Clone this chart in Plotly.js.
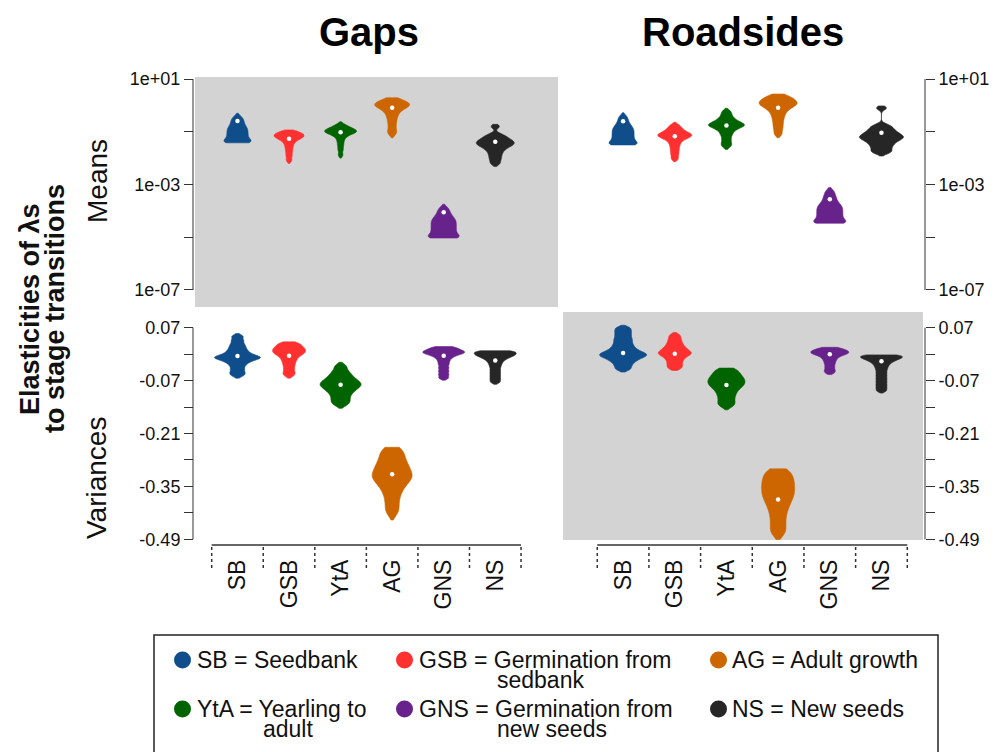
<!DOCTYPE html>
<html>
<head>
<meta charset="utf-8">
<script src="https://cdn.plot.ly/plotly-3.0.1.min.js"></script>
<style>html,body{margin:0;padding:0;background:#fff}#chart{width:998px;height:752px}</style>
</head>
<body>
<div id="chart"></div>
<script>
// ---------------- DATA ----------------
const categories = ['SB', 'GSB', 'YtA', 'AG', 'GNS', 'NS'];
const legendLabels = [
  ['SB = Seedbank'],
  ['GSB = Germination from', 'sedbank'],
  ['YtA = Yearling to', 'adult'],
  ['AG = Adult growth'],
  ['GNS = Germination from', 'new seeds'],
  ['NS = New seeds']
];
const panelTitles = ['Gaps', 'Roadsides'];
const rowTitles = ['Means', 'Variances'];
const outerTitleLines = ['Elasticities of \u03bbs', 'to stage transitions'];

// Means (log10 of elasticity to each stage transition), samples
const gapsMeansLog10 = [
  [-1.42, -1.41, -1.38, -1.36, -1.30, -1.24, -1.18, -1.12, -1.06, -1.00, -0.94, -0.88, -0.82, -0.74, -0.65, -0.55, -0.45],
  [-0.99, -1.02, -1.06, -1.10, -1.13, -1.16, -1.19, -1.22, -1.26, -1.31, -1.38, -1.48, -1.60, -1.74, -1.90, -2.08],
  [-0.74, -0.80, -0.85, -0.89, -0.92, -0.95, -0.97, -0.99, -1.01, -1.04, -1.07, -1.11, -1.17, -1.26, -1.38, -1.52, -1.68, -1.88],
  [0.24, 0.19, 0.14, 0.10, 0.06, 0.03, 0.00, -0.03, -0.07, -0.12, -0.18, -0.26, -0.36, -0.48, -0.62, -0.78, -0.95, -1.08],
  [-5.03, -5.02, -5.00, -4.96, -4.90, -4.84, -4.78, -4.72, -4.66, -4.60, -4.54, -4.48, -4.42, -4.36, -4.30, -4.23, -4.14, -4.03, -3.90],
  [-0.80, -1.10, -1.18, -1.25, -1.30, -1.35, -1.39, -1.43, -1.47, -1.51, -1.56, -1.62, -1.70, -1.80, -1.92, -2.05, -2.20]
];
const gapsMeansMedianLog10 = [-0.59, -1.27, -1.02, -0.09, -4.05, -1.38];

const roadsMeansLog10 = [
  [-1.50, -1.49, -1.46, -1.44, -1.38, -1.32, -1.26, -1.20, -1.14, -1.08, -1.02, -0.96, -0.90, -0.84, -0.77, -0.68, -0.56, -0.43],
  [-0.76, -0.86, -0.94, -1.00, -1.05, -1.09, -1.12, -1.15, -1.18, -1.22, -1.27, -1.34, -1.44, -1.56, -1.70, -1.85, -2.02],
  [-0.23, -0.36, -0.47, -0.55, -0.61, -0.66, -0.70, -0.73, -0.76, -0.79, -0.83, -0.88, -0.95, -1.04, -1.15, -1.29, -1.43, -1.55],
  [0.38, 0.32, 0.26, 0.21, 0.16, 0.12, 0.08, 0.04, 0.00, -0.05, -0.11, -0.19, -0.29, -0.41, -0.55, -0.71, -0.88, -1.08],
  [-4.47, -4.46, -4.44, -4.40, -4.34, -4.28, -4.22, -4.16, -4.10, -4.04, -3.98, -3.92, -3.86, -3.80, -3.73, -3.64, -3.53, -3.41, -3.26],
  [-0.10, -0.75, -0.84, -0.92, -0.99, -1.05, -1.10, -1.15, -1.19, -1.23, -1.27, -1.32, -1.38, -1.45, -1.53, -1.62, -1.72, -1.80]
];
const roadsMeansMedianLog10 = [-0.60, -1.17, -0.76, -0.09, -3.56, -1.04];

// Variances
const gapsVar = [
  [0.047, 0.036, 0.026, 0.018, 0.011, 0.005, 0.000, -0.004, -0.007, -0.009, -0.011, -0.014, -0.018, -0.023, -0.030, -0.039, -0.048, -0.056],
  [0.030, 0.026, 0.022, 0.018, 0.015, 0.012, 0.009, 0.006, 0.003, 0.000, -0.004, -0.009, -0.015, -0.022, -0.030, -0.039, -0.048, -0.056],
  [-0.032, -0.045, -0.054, -0.061, -0.067, -0.072, -0.076, -0.080, -0.084, -0.088, -0.093, -0.099, -0.106, -0.115, -0.124, -0.133],
  [-0.249, -0.258, -0.267, -0.276, -0.284, -0.291, -0.298, -0.304, -0.310, -0.316, -0.321, -0.326, -0.331, -0.337, -0.344, -0.352, -0.362, -0.374, -0.389, -0.405, -0.421],
  [0.019, 0.016, 0.013, 0.010, 0.008, 0.006, 0.004, 0.002, 0.000, -0.003, -0.007, -0.012, -0.019, -0.027, -0.036, -0.045, -0.054, -0.063],
  [0.009, 0.008, 0.006, 0.004, 0.002, 0.000, -0.002, -0.004, -0.006, -0.009, -0.012, -0.016, -0.021, -0.027, -0.034, -0.042, -0.050, -0.058, -0.066, -0.074]
];
const gapsVarMedian = [-0.005, -0.004, -0.081, -0.318, -0.004, -0.017];

const roadsVar = [
  [0.069, 0.060, 0.051, 0.042, 0.034, 0.026, 0.019, 0.013, 0.008, 0.004, 0.001, -0.002, -0.005, -0.008, -0.012, -0.017, -0.023, -0.031, -0.040],
  [0.050, 0.041, 0.033, 0.026, 0.020, 0.015, 0.011, 0.007, 0.004, 0.001, -0.002, -0.006, -0.011, -0.017, -0.024, -0.031, -0.038],
  [-0.039, -0.045, -0.051, -0.056, -0.061, -0.065, -0.069, -0.073, -0.077, -0.081, -0.085, -0.090, -0.096, -0.103, -0.111, -0.120, -0.129, -0.137],
  [-0.306, -0.314, -0.322, -0.330, -0.337, -0.344, -0.351, -0.358, -0.365, -0.372, -0.379, -0.387, -0.396, -0.406, -0.418, -0.432, -0.447, -0.462, -0.476],
  [0.017, 0.014, 0.011, 0.009, 0.007, 0.005, 0.003, 0.001, -0.001, -0.004, -0.008, -0.013, -0.019, -0.026, -0.034, -0.042, -0.049],
  [-0.002, -0.003, -0.005, -0.007, -0.009, -0.011, -0.013, -0.016, -0.019, -0.023, -0.028, -0.034, -0.041, -0.049, -0.057, -0.065, -0.073, -0.081, -0.089, -0.097]
];
const roadsVarMedian = [0.003, 0.001, -0.082, -0.385, 0.000, -0.019];

// Axis ticks
const meansTickVals = [1, -1, -3, -5, -7];
const meansTickText = ['1e+01', '', '1e-03', '', '1e-07'];
const varTickVals = [0.07, 0, -0.07, -0.14, -0.21, -0.28, -0.35, -0.42, -0.49];
const varTickText = ['0.07', '', '-0.07', '', '-0.21', '', '-0.35', '', '-0.49'];

// ---------------- STYLE ----------------
const colors = ['#104E8B', '#FF3030', '#006400', '#CD6600', '#68228B', '#262626'];
const W = 998, H = 752;
const px = x => x / W;
const py = y => 1 - y / H;
const catPx = 51.6;
// kernel bandwidths, span extension (in bandwidths) at [low, high] end, max widths in px
const gapsMeansBw = [0.10, 0.08, 0.08, 0.10, 0.10, 0.08];
const roadsMeansBw = [0.10, 0.08, 0.08, 0.10, 0.10, 0.08];
const gapsVarBw = [0.005, 0.005, 0.007, 0.012, 0.004, 0.004];
const roadsVarBw = [0.005, 0.005, 0.007, 0.012, 0.004, 0.004];
const gapsMeansExt = [[0, 1.5], [1.5, 0.75], [1.5, 1.5], [1.5, 0.5], [0, 1.5], [1.5, 1.0]];
const roadsMeansExt = [[0, 1.5], [1.5, 1.5], [1.5, 1.5], [1.5, 0.5], [0, 1.5], [1.5, 1.0]];
const gapsVarExt = [[1.5, 1.5], [1.5, 0.5], [1.5, 1.5], [1.5, 0.2], [1.5, 0.25], [1.5, 0]];
const roadsVarExt = [[1.5, 1.5], [1.0, 1.5], [1.5, 0.3], [1.2, 0.2], [1.25, 0.25], [1.5, 0]];
const gapsMeansW = [27, 30, 32, 35, 31, 38];
const roadsMeansW = [28, 34, 36, 38, 32, 44];
const gapsVarW = [46, 33, 41, 40, 42, 42];
const roadsVarW = [47, 33, 37, 33, 38, 42];

const traces = [];
function addPanel(samples, medians, bws, exts, widths, xa, ya) {
  categories.forEach((c, i) => {
    const s = samples[i];
    const lo = Math.min(...s) - exts[i][0] * bws[i];
    const hi = Math.max(...s) + exts[i][1] * bws[i];
    traces.push({
      type: 'violin', x0: c, y: s, xaxis: xa, yaxis: ya, name: c,
      fillcolor: colors[i], line: {color: colors[i], width: 0.6},
      points: false, box: {visible: false}, meanline: {visible: false},
      spanmode: 'manual', span: [lo, hi], bandwidth: bws[i], scalemode: 'width', width: widths[i] / catPx,
      hoverinfo: 'skip', showlegend: false
    });
  });
  traces.push({
    type: 'scatter', mode: 'markers', x: categories, y: medians, xaxis: xa, yaxis: ya,
    marker: {color: '#ffffff', size: 4.5}, showlegend: false, hoverinfo: 'skip'
  });
}
addPanel(gapsMeansLog10, gapsMeansMedianLog10, gapsMeansBw, gapsMeansExt, gapsMeansW, 'x', 'y');
addPanel(roadsMeansLog10, roadsMeansMedianLog10, roadsMeansBw, roadsMeansExt, roadsMeansW, 'x2', 'y2');
addPanel(gapsVar, gapsVarMedian, gapsVarBw, gapsVarExt, gapsVarW, 'x3', 'y3');
addPanel(roadsVar, roadsVarMedian, roadsVarBw, roadsVarExt, roadsVarW, 'x4', 'y4');

const leftDom = [px(195), px(558)], rightDom = [px(563), px(923)];
const topDom = [py(307), py(77)], botDom = [py(540), py(312)];
const leftRange = [-0.824, 6.217], rightRange = [-1.163, 5.804];
const meansRange = [-7.645, 1.076], varRange = [-0.4919, 0.1115];
const fam = 'Liberation Sans, Arial, sans-serif';
const tickFont = {family: fam, size: 18, color: '#111'};

function xax(dom, range, anchor, labels) {
  return {
    domain: dom, anchor: anchor, type: 'category', categoryorder: 'array', categoryarray: categories,
    range: range, showgrid: false, zeroline: false, showline: false, ticks: '',
    showticklabels: labels, tickangle: -90, ticklabelstandoff: 14,
    tickfont: {family: fam, size: 23, color: '#111'}
  };
}
function yax(dom, range, pos, side, vals, text) {
  return {
    domain: dom, anchor: 'free', position: pos, side: side, range: range,
    tickmode: 'array', tickvals: vals, ticktext: text, ticks: 'outside', ticklen: 9,
    tickwidth: 1, tickcolor: '#333', tickfont: tickFont, showgrid: false, zeroline: false, showline: false
  };
}

const shapes = [];
shapes.push({type: 'rect', xref: 'x domain', yref: 'y domain', x0: 0, x1: 1, y0: 0, y1: 1, fillcolor: '#D3D3D3', line: {width: 0}, layer: 'below'});
shapes.push({type: 'rect', xref: 'x4 domain', yref: 'y4 domain', x0: 0, x1: 1, y0: 0, y1: 1, fillcolor: '#D3D3D3', line: {width: 0}, layer: 'below'});
[['y', px(193), meansTickVals], ['y2', px(925), meansTickVals], ['y3', px(193), varTickVals], ['y4', px(925), varTickVals]].forEach(a => {
  shapes.push({type: 'line', xref: 'paper', yref: a[0], x0: a[1], x1: a[1], y0: Math.min(...a[2]), y1: Math.max(...a[2]), line: {color: '#333', width: 1}});
});
['x3', 'x4'].forEach(xr => {
  shapes.push({type: 'line', xref: xr, yref: 'paper', x0: -0.5, x1: categories.length - 0.5, y0: py(545), y1: py(545), line: {color: '#333', width: 1.3}});
  for (let i = 0; i <= categories.length; i++) {
    shapes.push({type: 'line', xref: xr, yref: 'paper', x0: i - 0.5, x1: i - 0.5, y0: py(547), y1: py(568), line: {color: '#333', width: 1.5, dash: 'dot'}});
  }
});
shapes.push({type: 'rect', xref: 'paper', yref: 'paper', x0: px(154), x1: px(938), y0: py(770), y1: py(635), line: {color: '#222', width: 1.5}, fillcolor: 'rgba(0,0,0,0)'});

const annotations = [];
annotations.push({xref: 'paper', yref: 'paper', x: px(368.5), y: py(32), text: '<b>' + panelTitles[0] + '</b>', showarrow: false, xanchor: 'center', yanchor: 'middle', font: {family: fam, size: 40, color: '#000'}});
annotations.push({xref: 'paper', yref: 'paper', x: px(742.5), y: py(32), text: '<b>' + panelTitles[1] + '</b>', showarrow: false, xanchor: 'center', yanchor: 'middle', font: {family: fam, size: 40, color: '#000'}});
annotations.push({xref: 'paper', yref: 'paper', x: px(97), y: py(181), text: rowTitles[0], textangle: -90, showarrow: false, xanchor: 'center', yanchor: 'middle', font: {family: fam, size: 28, color: '#111'}});
annotations.push({xref: 'paper', yref: 'paper', x: px(97), y: py(478), text: rowTitles[1], textangle: -90, showarrow: false, xanchor: 'center', yanchor: 'middle', font: {family: fam, size: 28, color: '#111'}});
annotations.push({xref: 'paper', yref: 'paper', x: px(30), y: py(309), text: '<b>' + outerTitleLines[0] + '</b>', textangle: -90, showarrow: false, xanchor: 'center', yanchor: 'middle', font: {family: fam, size: 27, color: '#111'}});
annotations.push({xref: 'paper', yref: 'paper', x: px(55), y: py(309), text: '<b>' + outerTitleLines[1] + '</b>', textangle: -90, showarrow: false, xanchor: 'center', yanchor: 'middle', font: {family: fam, size: 27, color: '#111'}});

// legend entries, row-major: SB, GSB, AG / YtA, GNS, NS
const legendLayout = [
  {i: 0, cx: 182.5, cy: 660, tx: 195, tx2: 195},
  {i: 1, cx: 404.5, cy: 660, tx: 417, tx2: 495},
  {i: 3, cx: 718.5, cy: 660, tx: 730, tx2: 730},
  {i: 2, cx: 182.5, cy: 709, tx: 195, tx2: 261},
  {i: 4, cx: 404.5, cy: 709, tx: 417, tx2: 495},
  {i: 5, cx: 718.5, cy: 709, tx: 730, tx2: 730}
];
legendLayout.forEach(l => {
  const r = 8.5;
  shapes.push({type: 'circle', xref: 'paper', yref: 'paper', x0: px(l.cx - r), x1: px(l.cx + r), y0: py(l.cy + r), y1: py(l.cy - r), fillcolor: colors[l.i], line: {width: 0}});
  const lines = legendLabels[l.i];
  annotations.push({xref: 'paper', yref: 'paper', x: px(l.tx), y: py(l.cy), text: lines[0], showarrow: false, xanchor: 'left', yanchor: 'middle', font: {family: fam, size: 23, color: '#111'}});
  if (lines[1]) {
    annotations.push({xref: 'paper', yref: 'paper', x: px(l.tx2), y: py(l.cy + 20), text: lines[1], showarrow: false, xanchor: 'left', yanchor: 'middle', font: {family: fam, size: 23, color: '#111'}});
  }
});

const layout = {
  width: W, height: H, margin: {l: 0, r: 0, t: 0, b: 0},
  paper_bgcolor: '#fff', plot_bgcolor: '#fff', showlegend: false, violinmode: 'overlay',
  xaxis: xax(leftDom, leftRange, 'y', false),
  xaxis2: xax(rightDom, rightRange, 'y2', false),
  xaxis3: xax(leftDom, leftRange, 'y3', true),
  xaxis4: xax(rightDom, rightRange, 'y4', true),
  yaxis: yax(topDom, meansRange, px(193), 'left', meansTickVals, meansTickText),
  yaxis2: yax(topDom, meansRange, px(925), 'right', meansTickVals, meansTickText),
  yaxis3: yax(botDom, varRange, px(193), 'left', varTickVals, varTickText),
  yaxis4: yax(botDom, varRange, px(925), 'right', varTickVals, varTickText),
  shapes: shapes, annotations: annotations
};
Plotly.newPlot('chart', traces, layout, {staticPlot: true, displayModeBar: false});
</script>
</body>
</html>
